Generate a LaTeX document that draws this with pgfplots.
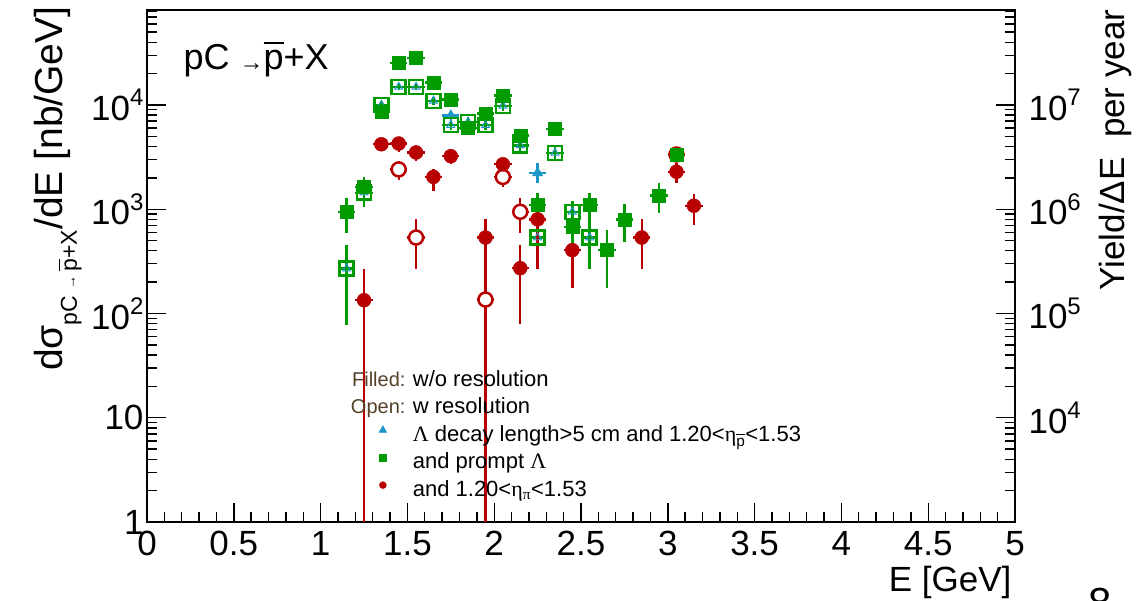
\documentclass[border=0pt]{standalone}
\usepackage{pgfplots}
\pgfplotsset{compat=1.18}
\usepackage{pgfplotstable}
\usepackage{fontspec}
\setmainfont{Liberation Sans}
\newfontfamily\grk{Liberation Serif}
\definecolor{gr}{RGB}{0,155,0}
\definecolor{rd}{RGB}{185,0,0}
\definecolor{bl}{RGB}{30,150,200}
\definecolor{brn}{RGB}{85,65,40}
\newcommand\pbar{\vbox{\hrule height 0.07em\kern0.18em\hbox{p}}}
\newcommand\ee[1]{10\raisebox{0.42em}{\fontsize{24}{24}\selectfont #1}}

% green filled squares: prompt Lambda, w/o resolution
\pgfplotstableread{
x y ep em
1.15 940 350 350
1.25 1630 410 580
1.35 8550 800 800
1.45 25300 1800 1800
1.55 28300 1800 1800
1.65 16400 1200 1200
1.75 11300 900 900
1.85 6040 600 600
1.95 8300 700 700
2.05 12300 1500 1500
2.15 5100 700 700
2.25 1100 340 300
2.35 5900 700 700
2.45 675 200 200
2.55 1100 340 300
2.65 405 225 230
2.75 800 320 310
2.95 1350 430 420
3.05 3350 400 400
}\tGF
% blue filled triangles: Lambda decay length, w/o resolution
\pgfplotstableread{
x y ep em
1.15 940 350 350
1.25 1630 410 580
1.35 8550 800 800
1.45 25300 1800 1800
1.55 28300 1800 1800
1.65 16400 1200 1200
1.75 7900 800 800
1.85 6040 600 600
1.95 8300 700 700
2.05 12300 1500 1500
2.15 5100 700 700
2.25 2230 520 450
2.35 5900 700 700
2.45 675 200 200
2.55 1100 340 300
2.65 405 225 230
2.75 800 320 310
2.95 1350 430 420
3.05 3350 400 400
}\tBF
% open: prompt Lambda / Lambda decay length, w resolution
\pgfplotstableread{
x y ep em
1.15 270 187 192
1.25 1440 350 350
1.35 10000 900 900
1.45 14900 1000 1000
1.55 14900 1000 1000
1.65 10960 900 900
1.75 6400 700 700
1.85 6900 700 700
1.95 6400 700 700
2.05 9800 1000 1000
2.15 4100 600 600
2.25 535 150 150
2.35 3470 500 500
2.45 945 250 250
2.55 535 300 265
}\tGO
% red filled circles
\pgfplotstableread{
x y ep em
1.25 134 134 133.5
1.35 4200 600 600
1.45 4270 700 700
1.55 3500 600 600
1.65 2040 410 530
1.75 3230 500 500
1.95 535 265 534.5
2.05 2700 400 400
2.15 272 185 193
2.25 800 300 532
2.45 405 225 231
2.85 535 265 266
3.05 2290 500 500
3.15 1080 330 372
}\tRF
% red open circles
\pgfplotstableread{
x y ep em
1.45 2410 500 500
1.55 535 265 266
1.95 136 132 135.5
2.05 2040 400 400
2.15 945 345 355
3.05 3350 400 400
}\tRO

\pgfplotsset{eb/.style={forget plot, only marks,
  /pgfplots/error bars/y dir=both, /pgfplots/error bars/y explicit,
  /pgfplots/error bars/x dir=both, /pgfplots/error bars/x fixed=0.05,
  /pgfplots/error bars/error mark=none,
  /pgfplots/error bars/error bar style={line width=2.4pt, solid}}}

\begin{document}
\begin{tikzpicture}
\path[use as bounding box] (0,0) rectangle (1148pt,601pt);
\begin{axis}[
  at={(147pt,79pt)}, anchor=south west,
  scale only axis, width=868pt, height=512pt,
  xmin=0, xmax=5, ymode=log, ymin=1, ymax=81500,
  xtick={0,0.5,...,5}, xticklabels={0,0.5,1,1.5,2,2.5,3,3.5,4,4.5,5},
  minor x tick num=4,
  ytick={1,10,100,1000,10000},
  yticklabels={1,10,\ee{2},\ee{3},\ee{4}},
  minor ytick={2,3,4,5,6,7,8,9,20,30,40,50,60,70,80,90,200,300,400,500,600,700,800,900,2000,3000,4000,5000,6000,7000,8000,9000,20000,30000,40000,50000,60000,70000,80000},
  tick align=inside, xtick pos=bottom, ytick pos=left,
  major tick length=19pt, minor tick length=10pt,
  axis line style={line width=2pt},
  every tick/.style={black, line width=1.4pt},
  tick label style={font=\fontsize{35}{40}\selectfont},
  xticklabel style={yshift=-6pt},
  legend style={at={(axis description cs:0.26,0.297)}, anchor=north west,
    draw=none, fill=none, inner sep=0pt, font=\fontsize{22}{26}\selectfont,
    row sep=5.5pt, nodes={inner sep=2pt, text height=14pt, text depth=4pt}},
  legend cell align=left,
  legend image code/.code={\path[draw=none, fill=none] (0pt,0pt) rectangle (38pt,1pt);
    \draw[mark repeat=1, draw=none] plot coordinates {(10pt,6pt)};},
]
\addplot[eb, color=bl, mark=triangle*, mark size=6pt, mark options={fill=bl}]
  table[x=x, y=y, y error plus=ep, y error minus=em] {\tBF};
\addplot[eb, color=gr, mark=square, mark size=7pt, mark options={fill=white, line width=2.5pt}]
  table[x=x, y=y, y error plus=ep, y error minus=em] {\tGO};
\addplot[forget plot, only marks, color=bl, mark=triangle, mark size=4.5pt, mark options={fill=white, line width=1pt}]
  table[x=x, y=y] {\tGO};
\addplot[eb, color=rd, mark=*, mark size=7pt, mark options={fill=white, line width=2.5pt}]
  table[x=x, y=y, y error plus=ep, y error minus=em] {\tRO};
\addplot[eb, color=rd, mark=*, mark size=7pt, mark options={fill=rd}]
  table[x=x, y=y, y error plus=ep, y error minus=em] {\tRF};
\addplot[eb, color=gr, mark=square*, mark size=6.5pt, mark options={fill=gr}]
  table[x=x, y=y, y error plus=ep, y error minus=em] {\tGF};

\addlegendimage{empty legend}
\addlegendentry{\llap{\fontsize{20}{24}\selectfont\color{brn}Filled: }w/o resolution}
\addlegendimage{empty legend}
\addlegendentry{\llap{\fontsize{20}{24}\selectfont\color{brn}Open: }w resolution}
\addlegendimage{only marks, mark=triangle*, mark size=4.5pt, color=bl, mark options={fill=bl}}
\addlegendentry{{\grk Λ} decay length>5 cm and 1.20<{\grk η}\textsubscript{\pbar}<1.53}
\addlegendimage{only marks, mark=square*, mark size=3.5pt, color=gr, mark options={fill=gr}}
\addlegendentry{and prompt {\grk Λ}}
\addlegendimage{only marks, mark=*, mark size=3.5pt, color=rd, mark options={fill=rd}}
\addlegendentry{and 1.20<{\grk η}\textsubscript{\grk π}<1.53}
\end{axis}

\begin{axis}[
  at={(147pt,79pt)}, anchor=south west,
  scale only axis, width=868pt, height=512pt,
  xmin=0, xmax=5, ymode=log, ymin=1000, ymax=81500000,
  axis x line=none, axis y line*=right,
  ytick={10000,100000,1000000,10000000},
  yticklabels={\ee{4},\ee{5},\ee{6},\ee{7}},
  minor ytick={2000,3000,4000,5000,6000,7000,8000,9000,20000,30000,40000,50000,60000,70000,80000,90000,200000,300000,400000,500000,600000,700000,800000,900000,2000000,3000000,4000000,5000000,6000000,7000000,8000000,9000000,20000000,30000000,40000000,50000000,60000000,70000000,80000000},
  tick align=inside,
  major tick length=19pt, minor tick length=10pt,
  axis line style={line width=2pt},
  every tick/.style={black, line width=1.4pt},
  tick label style={font=\fontsize{35}{40}\selectfont},
  yticklabel style={xshift=10pt},
]
\addplot[draw=none, forget plot] coordinates {(0,10000)};
\end{axis}

\node[anchor=base west, font=\fontsize{36}{42}\selectfont] at (180pt,531pt)
  {pC \raisebox{-0.02em}{\fontsize{24}{24}\selectfont →}\pbar+X};
\node[rotate=90, anchor=base east, font=\fontsize{39}{46}\selectfont] at (62pt,598pt)
  {dσ\raisebox{-0.38em}{\fontsize{23}{23}\selectfont pC \raisebox{0.05em}{\fontsize{14}{14}\selectfont →}\,\pbar+X}/dE [nb/GeV]};
\node[rotate=90, anchor=base east, font=\fontsize{35}{42}\selectfont] at (1124pt,595pt)
  {Yield/ΔE\ \ per year};
\node[anchor=base east, font=\fontsize{35}{42}\selectfont] at (1015pt,9pt) {E [GeV]};
\node[anchor=north, font=\fontsize{42}{46}\selectfont] at (1100pt,16pt) {8};
\end{tikzpicture}
\end{document}
